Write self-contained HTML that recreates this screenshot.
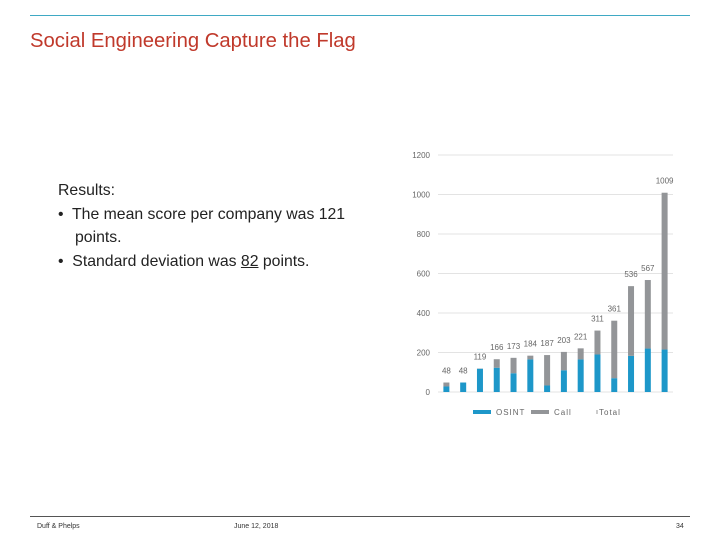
<!DOCTYPE html>
<html><head><meta charset="utf-8"><style>
body{margin:0;width:720px;height:540px;background:#fff;position:relative;overflow:hidden;font-family:"Liberation Sans",sans-serif}
.abs{position:absolute}
</style></head><body>
<div class="abs" style="left:30px;top:15px;width:660px;height:1px;background:#3fa9c4"></div>
<div class="abs" style="left:30px;top:30px;font-size:20.3px;color:#c0392b;white-space:nowrap">Social Engineering Capture the Flag</div>
<div class="abs" style="left:58px;top:179px;font-size:15.8px;color:#222;line-height:23.5px;width:320px">
<div>Results:</div>
<div style="padding-left:17px;text-indent:-17px">•&nbsp; The mean score per company was 121 points.</div>
<div style="padding-left:17px;text-indent:-17px">•&nbsp; Standard deviation was <u>82</u> points.</div>
</div>
<svg class="abs" style="left:0;top:0" width="720" height="540" id="chart"></svg>
<div class="abs" style="left:30px;top:516px;width:660px;height:1px;background:#555"></div>
<div class="abs" style="left:37px;top:523px;font-size:7px;color:#333">Duff &amp; Phelps</div>
<div class="abs" style="left:234px;top:523px;font-size:7px;color:#333">June 12, 2018</div>
<div class="abs" style="left:676px;top:523px;font-size:7px;color:#333">34</div>
<script>
const categories=["1","2","3","4","5","6","7","8","9","10","11","12","13","14"];
const osint=[28,48,118,123,95,165,33,110,165,190,70,183,220,215];
const totals=[48,48,119,166,173,184,187,203,221,311,361,536,567,1009];
const totalLabels=["48","48","119","166","173","184","187","203","221","311","361","536","567","1009"];
const yTicks=[0,200,400,600,800,1000,1200];
const svg=document.getElementById('chart');
const NS='http://www.w3.org/2000/svg';
const x0=438,x1=673,yBase=392,yTop=155,yMax=1200;
const y=v=>yBase-(v/yMax)*(yBase-yTop);
const step=(x1-x0)/categories.length;
const xc=i=>x0+step*(i+0.5);
function mk(t,a){const e=document.createElementNS(NS,t);for(const k in a)e.setAttribute(k,a[k]);svg.appendChild(e);return e;}
yTicks.forEach(v=>{
 const g=mk('line',{x1:x0,x2:x1,y1:y(v),y2:y(v),stroke:'#e3e3e3','stroke-width':1});
 
 
 const t=mk('text',{x:430,y:y(v)+3,'text-anchor':'end','font-size':8,fill:'#666','font-family':'Liberation Sans'});
 t.textContent=v;
 
 
});
categories.forEach((c,i)=>{
 const w=6,cx=xc(i);
 const o=mk('rect',{x:cx-w/2,y:y(osint[i]),width:w,height:yBase-y(osint[i]),fill:'#1d97c9'});
 
 
 const callV=totals[i]-osint[i];
 if(callV>0){
  const r=mk('rect',{x:cx-w/2,y:y(totals[i]),width:w,height:y(osint[i])-y(totals[i]),fill:'#939598'});
  
  
 }
 const t=mk('text',{x:cx,y:y(totals[i])-9,'text-anchor':'middle','font-size':8,fill:'#666','font-family':'Liberation Sans'});
 t.textContent=totalLabels[i];
 
 
});
const legend=[["OSINT","#1d97c9",473],["Call","#939598",531],["Total","#ccc",596]];
legend.forEach(l=>{
 const r=mk('rect',{x:l[2],y:410,width:l[0]==="Total"?2:18,height:4,fill:l[1]});
 
 
 const t=mk('text',{x:l[2]+(l[0]==="Total"?3:23),y:415,'font-size':8,fill:'#666','letter-spacing':'1','font-family':'Liberation Sans'});
 t.textContent=l[0];
 
 
});
</script>
</body></html>
